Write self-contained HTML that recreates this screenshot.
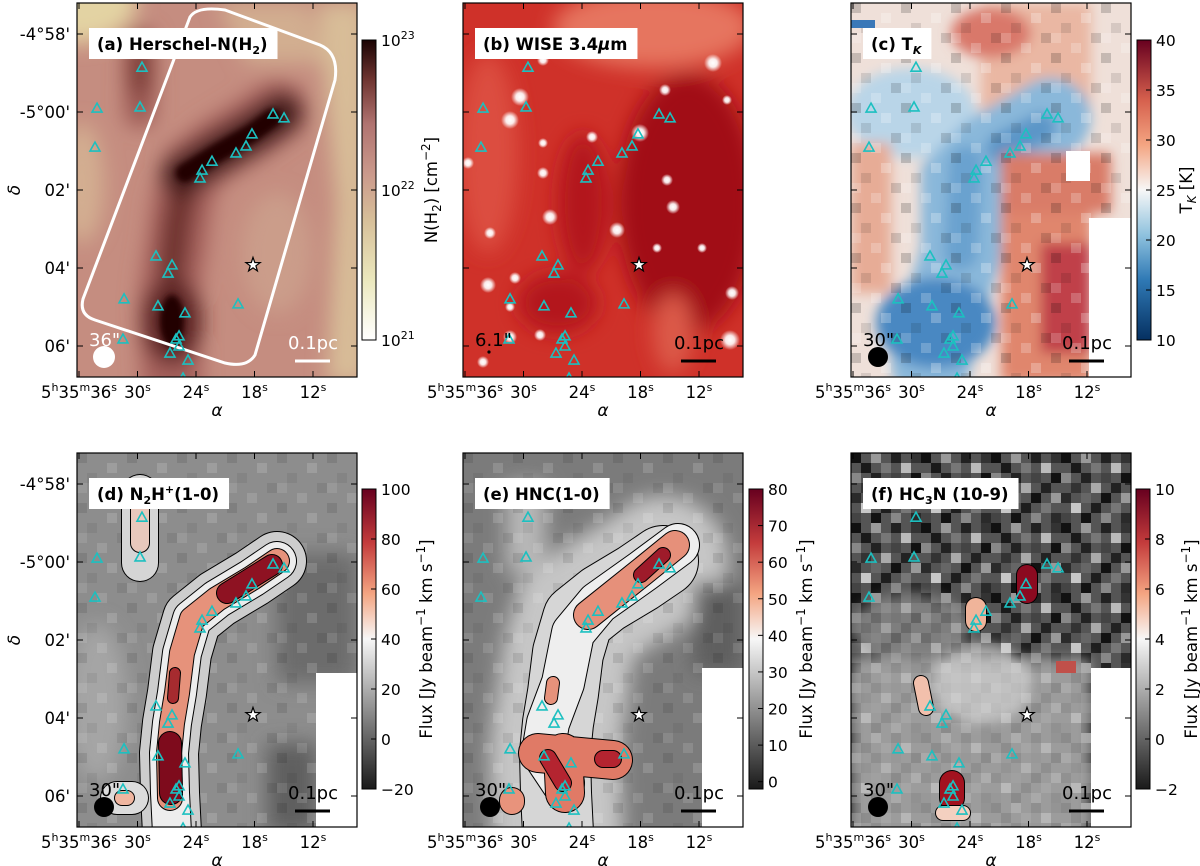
<!DOCTYPE html>
<html><head><meta charset="utf-8"><style>
html,body{margin:0;padding:0;background:#fff;}
svg{display:block;font-family:"DejaVu Sans","Liberation Sans",sans-serif;}
</style></head><body>
<svg id="fig" width="1200" height="866" viewBox="0 0 1200 866" xmlns="http://www.w3.org/2000/svg">
<defs>
<filter id="bl10" x="-50%" y="-50%" width="200%" height="200%"><feGaussianBlur stdDeviation="10"/></filter>
<filter id="bl6" x="-50%" y="-50%" width="200%" height="200%"><feGaussianBlur stdDeviation="6"/></filter>
<filter id="bl3" x="-50%" y="-50%" width="200%" height="200%"><feGaussianBlur stdDeviation="3"/></filter>
<radialGradient id="starg"><stop offset="0" stop-color="#fff"/><stop offset="0.45" stop-color="#fff" stop-opacity="0.9"/><stop offset="1" stop-color="#fff" stop-opacity="0"/></radialGradient>
<linearGradient id="cm-a" x1="0" y1="1" x2="0" y2="0"><stop offset="0" stop-color="#ffffff"/><stop offset="0.2" stop-color="#ebe8bd"/><stop offset="0.4" stop-color="#d7bf99"/><stop offset="0.55" stop-color="#cb9a8c"/><stop offset="0.72" stop-color="#b07370"/><stop offset="0.87" stop-color="#6e3430"/><stop offset="1" stop-color="#1a0303"/></linearGradient>
<linearGradient id="cm-c" x1="0" y1="1" x2="0" y2="0"><stop offset="0" stop-color="#053061"/><stop offset="0.2" stop-color="#2f79b5"/><stop offset="0.35" stop-color="#8fc2de"/><stop offset="0.5" stop-color="#f7f7f7"/><stop offset="0.65" stop-color="#f4a582"/><stop offset="0.8" stop-color="#d6604d"/><stop offset="1" stop-color="#67001f"/></linearGradient>
<linearGradient id="cm-g" x1="0" y1="1" x2="0" y2="0"><stop offset="0" stop-color="#1a1a1a"/><stop offset="0.5" stop-color="#f7f7f7"/><stop offset="0.65" stop-color="#f4a582"/><stop offset="0.82" stop-color="#c43c3c"/><stop offset="1" stop-color="#67001f"/></linearGradient>
<pattern id="noise" width="70" height="70" patternUnits="userSpaceOnUse">
<rect width="70" height="70" fill="#555"/>
<rect x="0" y="0" width="10" height="10" fill="#111"/><rect x="20" y="0" width="10" height="10" fill="#999"/><rect x="40" y="0" width="10" height="10" fill="#222"/><rect x="60" y="0" width="10" height="10" fill="#333"/>
<rect x="10" y="10" width="10" height="10" fill="#1a1a1a"/><rect x="30" y="10" width="10" height="10" fill="#777"/><rect x="50" y="10" width="10" height="10" fill="#bbb"/>
<rect x="0" y="20" width="10" height="10" fill="#888"/><rect x="20" y="20" width="10" height="10" fill="#222"/><rect x="40" y="20" width="10" height="10" fill="#444"/><rect x="60" y="20" width="10" height="10" fill="#111"/>
<rect x="10" y="30" width="10" height="10" fill="#333"/><rect x="30" y="30" width="10" height="10" fill="#aaa"/><rect x="50" y="30" width="10" height="10" fill="#222"/>
<rect x="0" y="40" width="10" height="10" fill="#2a2a2a"/><rect x="20" y="40" width="10" height="10" fill="#666"/><rect x="40" y="40" width="10" height="10" fill="#111"/><rect x="60" y="40" width="10" height="10" fill="#999"/>
<rect x="10" y="50" width="10" height="10" fill="#c8c8c8"/><rect x="30" y="50" width="10" height="10" fill="#1e1e1e"/><rect x="50" y="50" width="10" height="10" fill="#777"/>
<rect x="0" y="60" width="10" height="10" fill="#444"/><rect x="20" y="60" width="10" height="10" fill="#111"/><rect x="40" y="60" width="10" height="10" fill="#888"/><rect x="60" y="60" width="10" height="10" fill="#2a2a2a"/>
</pattern>
<pattern id="noise2" width="50" height="50" patternUnits="userSpaceOnUse">
<rect x="0" y="0" width="10" height="10" fill="#000" opacity="0.5"/><rect x="30" y="10" width="10" height="10" fill="#fff" opacity="0.7"/><rect x="10" y="20" width="10" height="10" fill="#000" opacity="0.3"/><rect x="40" y="30" width="10" height="10" fill="#000" opacity="0.4"/><rect x="20" y="40" width="10" height="10" fill="#fff" opacity="0.6"/><rect x="0" y="30" width="10" height="10" fill="#fff" opacity="0.5"/>
</pattern>
<clipPath id="pclip"><rect x="0" y="0" width="280" height="374"/></clipPath>
</defs>
</svg>
<script>
// ---- data: source positions (RA seconds of 5h35m, Dec arcmin south of -5°00') ----
const srcRA  = [29.54,34.15,29.74,34.36,16.10,14.97,18.26,18.87,19.90,22.36,23.38,23.59,28.10,26.46,26.87,31.38,27.90,25.13,19.69,31.49,25.74,26.05,25.74,26.67,24.82,25.33];
const srcDec = [-1.15,-0.10,-0.13,0.90,0.05,0.15,0.56,0.87,1.05,1.26,1.49,1.69,3.69,3.92,4.13,4.79,4.97,5.15,4.92,5.82,5.74,5.82,6.00,6.18,6.36,6.82];
const starRA = [18.15];
const starDec = [3.92];
const raTicks = [36,30,24,18,12];
const decTicks = [-2,0,2,4,6];
const decTickLabels = ["-4°58'","-5°00'","02'","04'","06'"];
const cbTicksA = [21,22,23];
const cbTicksC = [10,15,20,25,30,35,40];
const cbTicksD = [-20,0,20,40,60,80,100];
const cbTicksE = [0,10,20,30,40,50,60,70,80];
const cbTicksF = [-2,0,2,4,6,8,10];

const W=280,H=374;
function xPix(ra){return 2+(36-ra)*9.75;}
function yPix(d){return 109+d*39;}
const NS="http://www.w3.org/2000/svg";
const svg=document.getElementById('fig');
function el(tag,attrs,parent){const e=document.createElementNS(NS,tag);for(const k in attrs)e.setAttribute(k,attrs[k]);(parent||svg).appendChild(e);return e;}

const panels=[
 {id:'a',x:77,y:3,title:'(a) Herschel-N(H<tspan font-size="11" dy="4">2</tspan><tspan dy="-4">)</tspan>',tw:186},
 {id:'b',x:463,y:3,title:'(b) WISE 3.4<tspan font-style="italic">μ</tspan>m',tw:158},
 {id:'c',x:851,y:3,title:'(c) T<tspan font-size="11" dy="4" font-style="italic">K</tspan>',tw:66},
 {id:'d',x:77,y:453,title:'(d) N<tspan font-size="11" dy="4">2</tspan><tspan dy="-4">H</tspan><tspan font-size="11" dy="-7">+</tspan><tspan dy="7">(1-0)</tspan>',tw:142},
 {id:'e',x:463,y:453,title:'(e) HNC(1-0)',tw:130},
 {id:'f',x:851,y:453,title:'(f) HC<tspan font-size="11" dy="4">3</tspan><tspan dy="-4">N (10-9)</tspan>',tw:152}
];
const fil="M200,108 L175,125 L140,146 L115,166 L105,200 L100,240 L95,270 L92,300 L93,340 L95,380";

function bgA(g){
 g.innerHTML=`<rect width="280" height="374" fill="#c58d80"/>
 <g filter="url(#bl10)">
 <ellipse cx="0" cy="0" rx="60" ry="40" fill="#e3d3a3"/>
 <polygon points="240,0 290,0 290,380 250,380 260,200" fill="#d8bd98"/>
 <polygon points="140,0 230,0 250,60 170,60" fill="#d2ae90"/>
 <ellipse cx="5" cy="180" rx="22" ry="60" fill="#d3ae91"/>
 <ellipse cx="200" cy="250" rx="35" ry="60" fill="#cb9d8a"/>
 <path d="${fil}" stroke="#a5615c" stroke-width="60" fill="none" stroke-linecap="round"/>
 <path d="M63,40 L63,110" stroke="#9c5a55" stroke-width="30" fill="none" stroke-linecap="round"/>
 <path d="M110,170 L100,220 L95,265" stroke="#6a2e2a" stroke-width="28" fill="none" stroke-linecap="round"/>
 <path d="M105,172 L140,150 L175,130 L205,110" stroke="#3c1412" stroke-width="42" fill="none" stroke-linecap="round"/>
 <ellipse cx="95" cy="318" rx="30" ry="44" fill="#5a2220"/>
 <ellipse cx="63" cy="65" rx="12" ry="30" fill="#7a3a36"/>
 </g>
 <path d="M108,170 L140,150 L175,130 L195,115" stroke="#230605" stroke-width="18" fill="none" stroke-linecap="round" filter="url(#bl3)"/>
 <ellipse cx="95" cy="318" rx="12" ry="26" fill="#230605" filter="url(#bl3)"/>
 <path d="M148,7 L243,42 Q262,50 258,77 L178,352 Q170,365 148,360 L18,317 Q2,312 6,296 L113,14 Q120,3 148,7 Z" fill="none" stroke="#fff" stroke-width="3"/>`;
}
function bgB(g){
 let s=`<rect width="280" height="374" fill="#cf3129"/>
 <g filter="url(#bl10)">
 <ellipse cx="190" cy="25" rx="100" ry="40" fill="#e6745f"/>
 <ellipse cx="25" cy="150" rx="30" ry="100" fill="#dc4e40"/>
 <ellipse cx="225" cy="200" rx="70" ry="130" fill="#a10d17"/>
 <ellipse cx="120" cy="200" rx="25" ry="70" fill="#b3141c"/>
 <ellipse cx="95" cy="300" rx="40" ry="30" fill="#b3181c"/>
 <ellipse cx="210" cy="330" rx="20" ry="40" fill="#dc5a4a"/>
 </g>`;
 const stars=[[57,94,9],[47,117,9],[250,60,9],[87,214,8],[154,227,8],[25,282,8],[267,337,10],[80,170,6],[210,204,7],[269,290,7],[202,87,6],[177,130,9],[80,57,6],[27,230,6],[52,275,6],[47,334,7],[77,332,6],[204,177,6],[129,134,6],[239,245,5],[194,245,5],[80,140,5],[47,304,5],[20,359,6],[264,97,5],[5,160,6]];
 stars.forEach(p=>{s+=`<circle cx="${p[0]}" cy="${p[1]}" r="${p[2]}" fill="url(#starg)"/>`;});
 g.innerHTML=s;
}
function bgC(g){
 g.innerHTML=`<rect width="280" height="374" fill="#efe0d9"/>
 <g filter="url(#bl6)">
 <ellipse cx="60" cy="110" rx="65" ry="45" fill="#b9d5e8"/>
 <rect x="130" y="0" width="110" height="110" fill="#eab7a3"/>
 <path d="M200,115 L140,150 L110,180 L110,250 L95,300 L80,360" stroke="#8ab8da" stroke-width="80" fill="none" stroke-linecap="round"/>
 <path d="M190,125 L150,145" stroke="#5b96c8" stroke-width="30" fill="none" stroke-linecap="round"/>
 <path d="M115,160 L110,250" stroke="#6aa2cf" stroke-width="34" fill="none" stroke-linecap="round"/>
 <ellipse cx="85" cy="320" rx="60" ry="45" fill="#4a88c2"/>
 <ellipse cx="140" cy="30" rx="40" ry="25" fill="#d9786a"/>
 <rect x="150" y="200" width="90" height="180" fill="#e0866d"/>
 <rect x="190" y="240" width="50" height="110" fill="#c0404a"/>
 <rect x="150" y="150" width="110" height="60" fill="#d97c68"/>
 <rect x="0" y="140" width="40" height="150" fill="#e7ac96"/>
 </g>
 <rect width="280" height="374" fill="url(#noise2)" opacity="0.35"/>
 <rect x="0" y="17" width="24" height="8" fill="#3a78b8"/>
 <rect x="238" y="215" width="42" height="160" fill="#fff"/>
 <rect x="215" y="148" width="24" height="30" fill="#fff"/>`;
}
function contour(d,wOut,fill,w){return `<path d="${d}" stroke="#000" stroke-width="${wOut}" fill="none" stroke-linecap="round" stroke-linejoin="round"/><path d="${d}" stroke="${fill}" stroke-width="${w}" fill="none" stroke-linecap="round" stroke-linejoin="round"/>`;}
function bgD(g){
 g.innerHTML=`<rect width="280" height="374" fill="#8d8d8d"/>
 <g filter="url(#bl10)"><rect x="200" y="100" width="80" height="130" fill="#6c6c6c"/><rect x="190" y="290" width="50" height="90" fill="#5e5e5e"/><ellipse cx="20" cy="250" rx="30" ry="80" fill="#a5a5a5"/></g>
 <rect width="280" height="374" fill="url(#noise2)" opacity="0.2"/>
 ${contour(fil,60,"#cdcdcd",58)}
 ${contour("M63,40 L63,110",38,"#d5d5d5",36)}
 ${contour("M40,345 L55,345",34,"#dcdcdc",32)}
 ${contour(fil,40,"#ededed",38)}
 ${contour("M63,50 L63,90",20,"#e8c8bc",18)}
 ${contour("M200,108 L175,125 L140,146 L115,166 L105,200 L100,240 L95,270 L92,300 L93,345",26,"#e6927b",24)}
 ${contour("M45,345 L50,345",16,"#f0b6a0",14)}
 ${contour("M195,112 L150,140",22,"#8e1222",20)}
 ${contour("M98,220 L96,245",12,"#a62b2f",10)}
 ${contour("M93,290 L94,340",24,"#7e0b1c",22)}
 <rect x="239" y="220" width="41" height="160" fill="#fff"/>`;
}
function bgE(g){
 g.innerHTML=`<rect width="280" height="374" fill="#7b7b7b"/>
 <g filter="url(#bl10)"><path d="${fil}" stroke="#c6c6c6" stroke-width="130" fill="none" stroke-linecap="round"/><path d="M63,30 L63,120" stroke="#b8b8b8" stroke-width="40" fill="none"/><rect x="230" y="130" width="50" height="90" fill="#5f5f5f"/></g>
 <rect width="280" height="374" fill="url(#noise2)" opacity="0.2"/>
 ${contour(fil,72,"#d6d6d6",70)}
 ${contour("M215,92 L180,118 L135,150 L110,180 L100,230 L85,270 L80,300 L100,330",44,"#eeeeee",42)}
 ${contour("M212,92 L180,118 L125,162",30,"#e6907a",28)}
 ${contour("M75,300 L150,307 M100,300 L102,340",40,"#e07a66",38)}
 ${contour("M90,230 L88,245",14,"#e6927b",12)}
 ${contour("M200,102 L178,122",16,"#9e1b2a",14)}
 ${contour("M85,305 L100,330 M140,306 L150,306",18,"#b42430",16)}
 ${contour("M49,347 L49,349",26,"#e8937c",24)}
 <rect x="239" y="215" width="41" height="160" fill="#fff"/>`;
}
function bgF(g){
 g.innerHTML=`<rect width="280" height="374" fill="url(#noise)"/>
 <g filter="url(#bl6)"><rect x="0" y="205" width="240" height="180" fill="#b4b4b4" opacity="0.75"/><ellipse cx="60" cy="175" rx="60" ry="35" fill="#9a9a9a" opacity="0.6"/><ellipse cx="130" cy="230" rx="50" ry="40" fill="#d8d8d8" opacity="0.6"/></g>
 ${contour("M176,122 L176,140",22,"#8b0a20",20)}
 ${contour("M125,155 L125,168",22,"#f0b49a",20)}
 ${contour("M101,330 L101,345",26,"#a3121f",24)}
 ${contour("M92,360 L112,360",16,"#f4d0c0",14)}
 ${contour("M70,230 L75,255",16,"#f2c0ac",14)}
 <rect x="205" y="208" width="20" height="12" fill="#c0504a"/>
 <rect x="240" y="215" width="40" height="160" fill="#fff"/>`;
}
const bgs={a:bgA,b:bgB,c:bgC,d:bgD,e:bgE,f:bgF};

panels.forEach(p=>{
 const g=el('g',{transform:`translate(${p.x},${p.y})`});
 
 
 const img=el('g',{'clip-path':'url(#pclip)'},g);
 
 
 const bgG=el('g',{},img);
 bgs[p.id](bgG);
 for(let i=0;i<srcRA.length;i++){
  const cx=xPix(srcRA[i]),cy=yPix(srcDec[i]);
  const t=el('polygon',{points:`${cx-5},${cy+4} ${cx+5},${cy+4} ${cx},${cy-5}`,fill:'none',stroke:'#1cc0c0','stroke-width':1.6},img);
  
  
 }
 for(let i=0;i<starRA.length;i++){
  const cx=xPix(starRA[i]),cy=yPix(starDec[i]);
  let pts=[];for(let k=0;k<10;k++){const r=k%2?3:7.5;const a=-Math.PI/2+k*Math.PI/5;pts.push((cx+r*Math.cos(a)).toFixed(1)+','+(cy+r*Math.sin(a)).toFixed(1));}
  const s=el('polygon',{points:pts.join(' '),fill:'#fff',stroke:'#000','stroke-width':1.2},img);
  
  
 }
 const dark = p.id!=='a';
 const col = dark?'#000':'#fff';
 if(p.id==='b'){
  el('circle',{cx:26,cy:374-25,r:1.6,fill:'#000'},g);
 } else {
  const bm=el('circle',{cx:27,cy:354,r:p.id==='a'?11:10,fill:col},g);
  
  
 }
 const bt=el('text',{x:12,y:343,'font-size':18,fill:col},g);
 bt.textContent=p.id==='a'?'36"':(p.id==='b'?'6.1"':'30"');
 
 
 el('line',{x1:218,x2:253,y1:358,y2:358,stroke:col,'stroke-width':3},g);
 const sb=el('text',{x:236,y:346,'font-size':18,fill:col,'text-anchor':'middle'},g);
 sb.textContent='0.1pc';
 
 
 const tb=el('rect',{x:12,y:25,width:p.tw,height:31,fill:'#fff'},g);
 
 
 const tt=el('text',{x:20,y:47,'font-size':16.5,'font-weight':'bold',fill:'#000'},g);
 tt.innerHTML=p.title;
 
 
 const tw=tt.getComputedTextLength?tt.getComputedTextLength():0;
 if(tw>0) tb.setAttribute('width',tw+18);
 el('rect',{x:0,y:0,width:W,height:H,fill:'none',stroke:'#000','stroke-width':1.2},g);
 decTicks.forEach((d,i)=>{
  const y=yPix(d);
  el('line',{x1:0,x2:6,y1:y,y2:y,stroke:'#000','stroke-width':1},g);
  el('line',{x1:W-6,x2:W,y1:y,y2:y,stroke:'#000','stroke-width':1},g);
  if(p.id==='a'||p.id==='d'){
   const tl=el('text',{x:-7,y:y+6,'font-size':16.5,'text-anchor':'end'},g);
   tl.textContent=decTickLabels[i];
   
   
  }
 });
 raTicks.forEach((r,i)=>{
  const x=xPix(r);
  el('line',{x1:x,x2:x,y1:0,y2:6,stroke:'#000','stroke-width':1},g);
  el('line',{x1:x,x2:x,y1:H-6,y2:H,stroke:'#000','stroke-width':1},g);
  const tl=el('text',{x:x,y:H+21,'font-size':16.5,'text-anchor':'middle'},g);
  if(i===0) tl.innerHTML='5<tspan font-size="11" dy="-7">h</tspan><tspan dy="7">35</tspan><tspan font-size="11" dy="-7">m</tspan><tspan dy="7">36</tspan><tspan font-size="11" dy="-7">s</tspan>';
  else tl.innerHTML=r+'<tspan font-size="11" dy="-7">s</tspan>';
  
  
 });
 const xl=el('text',{x:W/2,y:H+39,'font-size':17,'font-style':'italic','text-anchor':'middle'},g);
 xl.textContent='α';
 
 
 if(p.id==='a'||p.id==='d'){
  const yl=el('text',{x:0,y:0,'font-size':17,'font-style':'italic','text-anchor':'middle',transform:`translate(-57,${H/2}) rotate(-90)`},g);
  yl.textContent='δ';
  
  
 }
});

const cbs=[
 {x:362,y:40,grad:'cm-a',ticks:cbTicksA,min:21,max:23,fmt:v=>'10<tspan font-size="11" dy="-7">'+v+'</tspan>',label:'N(H<tspan font-size="12" dy="4">2</tspan><tspan dy="-4">) [cm</tspan><tspan font-size="12" dy="-7">−2</tspan><tspan dy="7">]</tspan>',lx:437},
 {x:1137,y:40,grad:'cm-c',ticks:cbTicksC,min:10,max:40,fmt:v=>''+v,label:'T<tspan font-size="12" dy="4" font-style="italic">K</tspan><tspan dy="-4"> [K]</tspan>',lx:1192},
 {x:362,y:489,grad:'cm-g',ticks:cbTicksD,min:-20,max:100,fmt:v=>(v<0?'−'+(-v):''+v),label:'Flux [Jy beam<tspan font-size="12" dy="-7">−1</tspan><tspan dy="7"> km s</tspan><tspan font-size="12" dy="-7">−1</tspan><tspan dy="7">]</tspan>',lx:432},
 {x:749,y:489,grad:'cm-g',ticks:cbTicksE,min:-2,max:80,fmt:v=>''+v,label:'Flux [Jy beam<tspan font-size="12" dy="-7">−1</tspan><tspan dy="7"> km s</tspan><tspan font-size="12" dy="-7">−1</tspan><tspan dy="7">]</tspan>',lx:812},
 {x:1136,y:489,grad:'cm-g',ticks:cbTicksF,min:-2,max:10,fmt:v=>(v<0?'−'+(-v):''+v),label:'Flux [Jy beam<tspan font-size="12" dy="-7">−1</tspan><tspan dy="7"> km s</tspan><tspan font-size="12" dy="-7">−1</tspan><tspan dy="7">]</tspan>',lx:1197}
];
cbs.forEach(c=>{
 const g=el('g',{});
 
 
 el('rect',{x:c.x,y:c.y,width:14,height:300,fill:`url(#${c.grad})`,stroke:'#000','stroke-width':1},g);
 c.ticks.forEach(v=>{
  const y=c.y+300-(v-c.min)/(c.max-c.min)*300;
  el('line',{x1:c.x+9,x2:c.x+14,y1:y,y2:y,stroke:'#000','stroke-width':1},g);
  const t=el('text',{x:c.x+19,y:y+6,'font-size':15.5},g);
  t.innerHTML=c.fmt(v);
  
  
 });
 const l=el('text',{x:0,y:0,'font-size':16.5,'text-anchor':'middle',transform:`translate(${c.lx},${c.y+150}) rotate(-90)`},g);
 l.innerHTML=c.label;
 
 
});
</script>
</body></html>
